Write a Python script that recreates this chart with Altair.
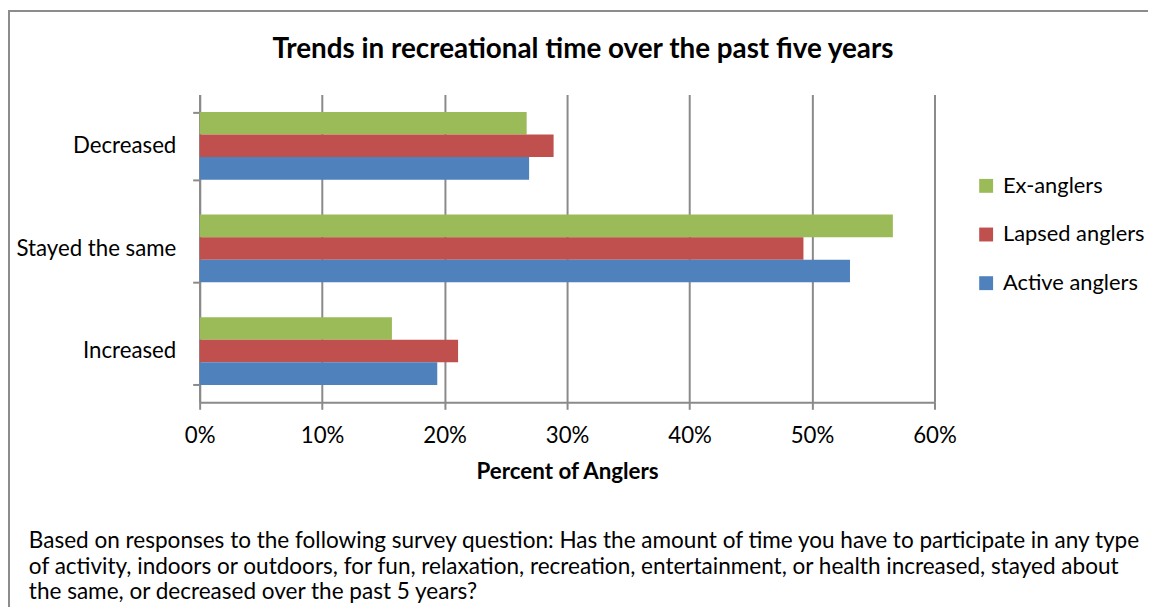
import altair as alt
import pandas as pd

categories = ["Decreased", "Stayed the same", "Increased"]
series = ["Ex-anglers", "Lapsed anglers", "Active anglers"]
colors = ["#9BBB59", "#C0504D", "#4F81BD"]
ex_anglers = [26.7, 56.6, 15.7]
lapsed_anglers = [28.9, 49.3, 21.1]
active_anglers = [26.9, 53.1, 19.4]
x_ticks = [0, 10, 20, 30, 40, 50, 60]

title_text = "Trends in recreational time over the past five years"
x_title = "Percent of Anglers"
footnote = [
    "Based on responses to the following survey question: Has the amount of time you have to participate in any type",
    "of activity, indoors or outdoors, for fun, relaxation, recreation, entertainment, or health increased, stayed about",
    "the same, or decreased over the past 5 years?",
]

rows = []
for name, vals in zip(series, [ex_anglers, lapsed_anglers, active_anglers]):
    for cat, v in zip(categories, vals):
        rows.append({"category": cat, "series": name, "value": v / 100.0})
df = pd.DataFrame(rows)

FONT = "Lato"
GRID = "#8a8a8a"
LBL = 22.4

bars = alt.Chart(df).mark_bar().encode(
    x=alt.X(
        "value:Q",
        scale=alt.Scale(domain=[0, 0.6], nice=False),
        axis=alt.Axis(
            values=[t / 100 for t in x_ticks],
            format=".0%",
            title=x_title,
            titleFont=FONT,
            titleFontSize=22.5,
            titleFontWeight="bold",
            titleColor="#000",
            titlePadding=14,
            labelFont=FONT,
            labelFontSize=LBL,
            labelColor="#000",
            labelPadding=15,
            labelFlush=False,
            tickSize=7,
            tickColor=GRID,
            tickWidth=2,
            domainColor=GRID,
            domainWidth=2,
            grid=True,
            gridColor=GRID,
            gridWidth=2,
        ),
    ),
    y=alt.Y(
        "category:N",
        sort=categories,
        scale=alt.Scale(paddingInner=0.34, paddingOuter=0.17),
        axis=alt.Axis(
            title=None,
            labelFont=FONT,
            labelFontSize=LBL,
            labelColor="#000",
            labelPadding=17,
            tickSize=7,
            tickBand="extent",
            tickColor=GRID,
            tickWidth=2,
            domainColor=GRID,
            domainWidth=2,
            grid=False,
        ),
    ),
    yOffset=alt.YOffset("series:N", sort=series),
    color=alt.Color(
        "series:N",
        sort=series,
        scale=alt.Scale(domain=series, range=colors),
        legend=alt.Legend(
            title=None,
            orient="none",
            legendX=781,
            legendY=81,
            symbolType="square",
            symbolSize=196,
            symbolStrokeWidth=0,
            labelFont=FONT,
            labelFontSize=22,
            labelColor="#000",
            labelOffset=6,
            rowPadding=27,
        ),
    ),
)

border = alt.Chart(alt.Data(values=[{}])).mark_rect(
    fill=None, stroke="#8c8c8c", strokeWidth=2
).encode(
    x=alt.value(-192), x2=alt.value(990), y=alt.value(-84), y2=alt.value(700)
)

title = alt.Chart(alt.Data(values=[{}])).mark_text(
    align="center", baseline="middle", font=FONT, fontSize=28, fontWeight="bold", color="#000"
).encode(
    x=alt.value(386), y=alt.value(-45), text=alt.value(title_text)
)

note = alt.Chart(alt.Data(values=[{}])).mark_text(
    align="left", baseline="middle", font=FONT, fontSize=22.7, lineHeight=25.5, color="#000"
).encode(
    x=alt.value(-172), y=alt.value(450), text=alt.value(footnote)
)

chart = alt.layer(border, bars, title, note).properties(
    width=740,
    height=310,
    autosize=alt.AutoSizeParams(type="none"),
    padding={"left": 193, "top": 85, "right": 215, "bottom": 204},
).configure_view(stroke=None)

chart.save("out.html", embed_options={"renderer": "svg", "actions": False})
